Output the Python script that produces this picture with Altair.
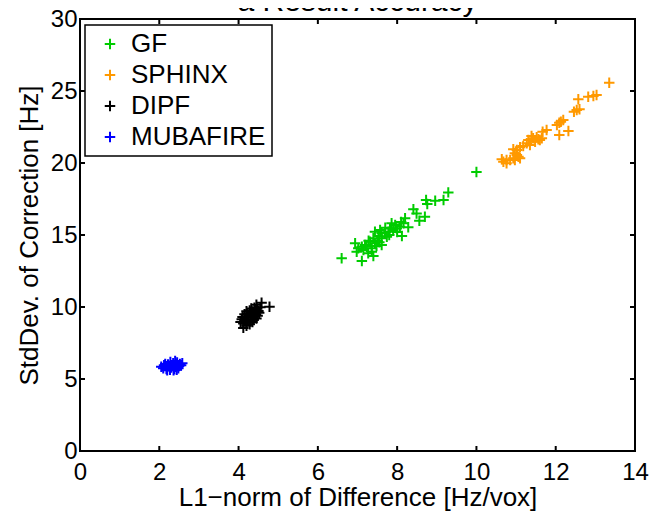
import altair as alt
import pandas as pd

# ---------------- data ----------------
methods = ["GF", "SPHINX", "DIPF", "MUBAFIRE"]
colors = ["#00cc00", "#ff9900", "#000000", "#0000ff"]

gf_x = [6.60, 7.11, 6.94, 7.02, 7.11, 6.98, 7.15, 7.27, 7.40, 7.36, 7.19,
        7.40, 7.32, 7.44, 7.23, 7.36, 7.48, 7.61, 7.28, 7.50, 7.55,
        8.12, 7.78, 7.69, 7.61, 7.74, 7.61, 7.53, 7.44, 7.57, 7.80, 8.00,
        7.95, 7.86, 7.99, 7.90, 8.07, 7.82, 7.70, 8.10,
        8.28, 8.20, 8.16, 8.41, 8.49, 8.70, 8.56,
        9.17, 8.96, 8.73, 8.76, 9.29, 10.00]
gf_y = [13.38, 13.19, 14.42, 14.08, 14.19, 13.84, 13.96, 13.73, 13.54, 13.84, 14.31,
        14.77, 14.53, 14.42, 14.19, 14.08, 14.24, 14.31, 14.60, 14.60, 14.50,
        14.93, 15.23, 15.16, 15.12, 14.88, 14.77, 14.93, 15.23, 15.35, 15.00, 15.20,
        15.69, 15.81, 15.46, 15.35, 15.58, 15.46, 15.50, 15.90,
        15.53, 16.16, 15.81, 16.78, 16.50, 16.27, 15.99,
        17.43, 17.38, 17.43, 17.15, 17.96, 19.38]

sphinx_x = [13.35, 12.95, 12.82, 13.03, 12.57, 12.53, 12.46, 12.60,
            12.19, 12.09, 12.03, 12.13, 12.32, 12.09, 11.77, 11.67,
            11.39, 11.52, 11.60, 11.48, 11.31, 11.43, 11.56, 11.65, 11.27, 11.35, 11.18,
            11.10, 11.02, 10.93, 10.97, 11.06, 10.93, 10.85, 10.97, 10.76, 10.64, 11.10,
            11.02, 10.76, 10.68]
sphinx_y = [25.58, 24.65, 24.60, 24.72, 24.42, 23.68, 23.56, 23.73,
            22.99, 22.80, 22.64, 22.87, 22.22, 21.94, 22.29, 22.17,
            21.88, 21.78, 21.60, 21.48, 21.60, 21.72, 21.65, 21.72, 21.37, 21.25, 21.18,
            21.09, 20.90, 20.95, 20.67, 20.44, 20.33, 20.21, 20.21, 20.21, 20.26, 20.33,
            20.56, 19.98, 20.09]

dipf_x = [4.12, 4.20, 4.05, 4.12, 4.20, 4.28, 4.35, 4.08, 4.15, 4.22, 4.30, 4.38, 4.45,
          4.10, 4.18, 4.25, 4.32, 4.40, 4.48, 4.15, 4.22, 4.30, 4.36, 4.44, 4.52,
          4.20, 4.28, 4.35, 4.42, 4.50, 4.32, 4.40, 4.47, 4.55, 4.58, 4.78, 4.45]
dipf_y = [8.55, 8.70, 8.95, 8.85, 8.90, 8.80, 8.95, 9.15, 9.05, 9.10, 9.05, 9.12, 9.20,
          9.30, 9.25, 9.35, 9.28, 9.35, 9.40, 9.50, 9.55, 9.45, 9.55, 9.50, 9.60,
          9.70, 9.75, 9.68, 9.80, 9.72, 9.90, 9.95, 9.88, 9.98, 10.30, 10.02, 10.15]

muba_x = [2.05, 2.10, 2.12, 2.18, 2.20, 2.22, 2.27, 2.30, 2.32, 2.35, 2.38, 2.40, 2.42,
          2.45, 2.48, 2.50, 2.52, 2.55, 2.28, 2.15, 2.25, 2.36, 2.44, 2.20, 2.58, 2.40]
muba_y = [5.85, 5.75, 5.95, 5.70, 5.85, 6.00, 5.65, 5.80, 5.95, 6.10, 5.70, 5.85, 6.00,
          6.15, 5.75, 5.90, 6.05, 5.95, 6.18, 6.05, 5.90, 5.60, 5.65, 5.60, 6.10, 6.25]

x_ticks = [0, 2, 4, 6, 8, 10, 12, 14]
y_ticks = [0, 5, 10, 15, 20, 25, 30]
title_text = "a  Result Accuracy"
x_title = "L1\u2212norm of Difference [Hz/vox]"
y_title = "StdDev. of Correction [Hz]"

# ---------------- build table ----------------
rows = []
for name, xs_, ys_ in [("GF", gf_x, gf_y), ("SPHINX", sphinx_x, sphinx_y),
                       ("DIPF", dipf_x, dipf_y), ("MUBAFIRE", muba_x, muba_y)]:
    for a, b in zip(xs_, ys_):
        rows.append({"method": name, "x": a, "y": b})
df = pd.DataFrame(rows)

W, H = 555, 432
FONT = "Liberation Sans"
CROSS = "M-1,0H1M0,-1V1"
xsc = alt.Scale(domain=[0, 14], nice=False, zero=False)
ysc = alt.Scale(domain=[0, 30], nice=False, zero=False)

x_axis = alt.Axis(
    values=x_ticks, title=x_title, grid=False, domain=False, ticks=False,
    tickSize=0, labelPadding=9, labelFontSize=24, labelFont=FONT,
    labelFlush=False, labelOverlap=False,
    labelColor="black", titleFont=FONT, titleFontSize=26,
    titleFontWeight="normal", titleColor="black", titleX=W / 2, titleY=54,
    titleAlign="center", titleBaseline="alphabetic")
y_axis = alt.Axis(
    values=y_ticks, title=y_title, grid=False, domain=False, ticks=False,
    tickSize=0, labelPadding=3, labelFontSize=24, labelFont=FONT,
    labelFlush=False, labelOverlap=False,
    labelColor="black", titleFont=FONT, titleFontSize=26,
    titleFontWeight="normal", titleColor="black", titleAngle=270,
    titleX=-43, titleY=H / 2, titleAlign="center",
    titleBaseline="alphabetic")

points = alt.Chart(df).mark_point(
    shape=CROSS, filled=False, size=110, strokeWidth=2, opacity=1
).encode(
    x=alt.X("x:Q", scale=xsc, axis=x_axis),
    y=alt.Y("y:Q", scale=ysc, axis=y_axis),
    color=alt.Color("method:N", scale=alt.Scale(domain=methods, range=colors),
                    legend=alt.Legend(
                        orient="none", legendX=5, legendY=6, title=None,
                        strokeColor="black", fillColor="white", padding=6,
                        rowPadding=5, symbolType=CROSS, symbolSize=110,
                        symbolStrokeWidth=2, symbolOffset=6, labelOffset=8,
                        labelFontSize=26, labelFont=FONT, labelColor="black",
                        labelLimit=300)),
)

xt = pd.DataFrame({"x": x_ticks})
yt = pd.DataFrame({"y": y_ticks})
tick_kw = dict(color="black", strokeWidth=2)
xt_bot = alt.Chart(xt).mark_rule(**tick_kw).encode(
    x=alt.X("x:Q", scale=xsc, axis=x_axis), y=alt.value(H), y2=alt.value(H - 5))
xt_top = alt.Chart(xt).mark_rule(**tick_kw).encode(
    x=alt.X("x:Q", scale=xsc, axis=x_axis), y=alt.value(0), y2=alt.value(5))
yt_left = alt.Chart(yt).mark_rule(**tick_kw).encode(
    y=alt.Y("y:Q", scale=ysc, axis=y_axis), x=alt.value(0), x2=alt.value(5))
yt_right = alt.Chart(yt).mark_rule(**tick_kw).encode(
    y=alt.Y("y:Q", scale=ysc, axis=y_axis), x=alt.value(W), x2=alt.value(W - 5))

title = alt.Chart(pd.DataFrame({"t": [title_text]})).mark_text(
    font=FONT, fontSize=30, align="center", baseline="alphabetic", color="black"
).encode(text="t:N", x=alt.value(W / 2), y=alt.value(-8))

chart = alt.layer(xt_bot, xt_top, yt_left, yt_right, points, title).properties(
    width=W, height=H,
    autosize=alt.AutoSizeParams(type="none"),
    padding={"left": 72, "top": 11, "right": 18, "bottom": 60},
).configure_view(stroke="black", strokeWidth=2).configure_legend(strokeWidth=1.5)

chart.save("out.html", embed_options={"renderer": "svg", "actions": False})
